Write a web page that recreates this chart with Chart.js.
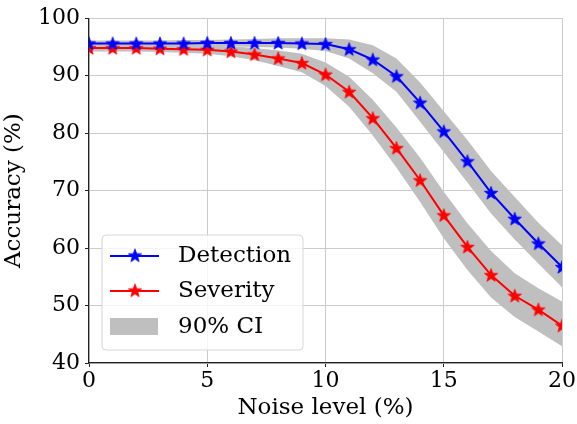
<!DOCTYPE html>
<html>
<head>
<meta charset="utf-8">
<script src="https://cdn.jsdelivr.net/npm/chart.js@4.4.1/dist/chart.umd.min.js"></script>
<style>
html,body{margin:0;padding:0;background:#fff;}
#wrap{width:577px;height:424px;}
</style>
</head>
<body>
<div id="wrap"><canvas id="c" width="577" height="424"></canvas></div>
<script>
const noise = [0,1,2,3,4,5,6,7,8,9,10,11,12,13,14,15,16,17,18,19,20];
const detection = [95.6,95.6,95.6,95.6,95.6,95.7,95.7,95.7,95.7,95.6,95.5,94.6,92.8,89.9,85.3,80.3,75.1,69.6,65.1,60.8,56.7];
const detectionLow = [95.1,95.1,95.1,95.1,95.1,95.1,95.1,95.0,94.9,94.7,94.3,93.0,90.4,87.2,82.0,76.7,71.4,66.0,61.5,57.3,53.2];
const detectionHigh = [96.1,96.1,96.1,96.1,96.2,96.2,96.3,96.4,96.5,96.5,96.5,96.3,95.3,93.0,88.8,83.8,78.8,73.4,68.9,64.4,60.5];
const severity = [94.8,94.8,94.8,94.7,94.6,94.5,94.2,93.7,93.0,92.2,90.2,87.2,82.6,77.4,71.8,65.7,60.2,55.3,51.7,49.3,46.5];
const severityLow = [94.2,94.2,94.2,94.1,94.0,93.8,93.4,92.7,91.7,90.6,88.2,84.6,79.6,74.0,68.0,61.7,56.2,51.4,48.0,45.5,42.9];
const severityHigh = [95.4,95.4,95.4,95.3,95.3,95.2,95.1,94.8,94.4,93.8,92.3,89.8,85.8,81.0,75.7,69.8,64.3,59.5,55.6,53.0,50.7];
const xTicks = [0,5,10,15,20];
const yTicks = [40,50,60,70,80,90,100];
const labels = ['Detection','Severity','90% CI'];

const FONT = "'DejaVu Serif', 'Liberation Serif', serif";
const BAND = '#bfbfbf';

function starPath(ctx, cx, cy, ro, ri){
  ctx.beginPath();
  for(let i=0;i<10;i++){
    const r = i%2===0 ? ro : ri;
    const a = -Math.PI/2 + i*Math.PI/5;
    const x = cx + r*Math.cos(a), y = cy + r*Math.sin(a);
    if(i===0) ctx.moveTo(x,y); else ctx.lineTo(x,y);
  }
  ctx.closePath();
}
function makeStar(color){
  const c = document.createElement('canvas');
  c.width = 16; c.height = 16;
  const g = c.getContext('2d');
  starPath(g, 8, 8.5, 7, 2.9);
  g.fillStyle = color; g.fill();
  g.lineWidth = 0.8; g.strokeStyle = color; g.stroke();
  return c;
}
const blueStar = makeStar('#0000ff');
const redStar = makeStar('#ff0000');

function pts(ys){ return noise.map((x,i)=>({x:x,y:ys[i]})); }

const legendPlugin = {
  id:'mplLegend',
  afterDraw(chart){
    const ctx = chart.ctx;
    ctx.save();
    const bx=102, by=235, bw=201, bh=115, r=4;
    ctx.beginPath();
    ctx.moveTo(bx+r,by); ctx.lineTo(bx+bw-r,by); ctx.quadraticCurveTo(bx+bw,by,bx+bw,by+r);
    ctx.lineTo(bx+bw,by+bh-r); ctx.quadraticCurveTo(bx+bw,by+bh,bx+bw-r,by+bh);
    ctx.lineTo(bx+r,by+bh); ctx.quadraticCurveTo(bx,by+bh,bx,by+bh-r);
    ctx.lineTo(bx,by+r); ctx.quadraticCurveTo(bx,by,bx+r,by);
    ctx.closePath();
    ctx.fillStyle='rgba(255,255,255,0.8)'; ctx.fill();
    ctx.strokeStyle='#d6d6d6'; ctx.lineWidth=1; ctx.stroke();
    const rows=[256,291,327];
    const cols=['#0000ff','#ff0000'];
    const stars=[blueStar,redStar];
    for(let i=0;i<2;i++){
      ctx.beginPath(); ctx.moveTo(110,rows[i]); ctx.lineTo(159,rows[i]);
      ctx.strokeStyle=cols[i]; ctx.lineWidth=2; ctx.stroke();
      ctx.drawImage(stars[i],135-8,rows[i]-8.5);
    }
    ctx.fillStyle=BAND; ctx.fillRect(110,318,48,17);
    ctx.fillStyle='#000'; ctx.font="23px "+FONT; ctx.textBaseline='middle'; ctx.textAlign='left';
    for(let i=0;i<3;i++) ctx.fillText(labels[i],178,rows[i]);
    ctx.restore();
  }
};

new Chart(document.getElementById('c'),{
  type:'line',
  data:{
    datasets:[
      {label:labels[0],data:pts(detection),borderColor:'#0000ff',borderWidth:2,pointStyle:blueStar,pointRadius:7,fill:false,order:0,clip:0,tension:0},
      {label:labels[1],data:pts(severity),borderColor:'#ff0000',borderWidth:2,pointStyle:redStar,pointRadius:7,fill:false,order:0,clip:0,tension:0},
      {label:'dHigh',data:pts(detectionHigh),borderWidth:0,borderColor:'rgba(0,0,0,0)',pointRadius:0,backgroundColor:BAND,fill:'+1',order:2,clip:0},
      {label:'dLow',data:pts(detectionLow),borderWidth:0,borderColor:'rgba(0,0,0,0)',pointRadius:0,fill:false,order:2,clip:0},
      {label:'sHigh',data:pts(severityHigh),borderWidth:0,borderColor:'rgba(0,0,0,0)',pointRadius:0,backgroundColor:BAND,fill:'+1',order:2,clip:0},
      {label:'sLow',data:pts(severityLow),borderWidth:0,borderColor:'rgba(0,0,0,0)',pointRadius:0,fill:false,order:2,clip:0}
    ]
  },
  options:{
    responsive:false,animation:false,
    layout:{padding:{top:16,right:14,left:0,bottom:0}},
    plugins:{legend:{display:false},tooltip:{enabled:false}},
    scales:{
      x:{type:'linear',min:0,max:20,
        afterFit(s){s.height=61;},
        afterBuildTicks(s){s.ticks=xTicks.map(v=>({value:v}));},
        ticks:{color:'#000',font:{family:FONT,size:22},padding:1,maxRotation:0},
        grid:{color:'#cbcbcb',lineWidth:1,tickLength:4,tickColor:'#222'},
        border:{color:'#222',width:1.2},
        title:{display:true,text:'Noise level (%)',color:'#000',font:{family:FONT,size:23},padding:{top:0,bottom:2}}
      },
      y:{type:'linear',min:40,max:100,
        afterFit(s){s.width=89;},
        afterBuildTicks(s){s.ticks=yTicks.map(v=>({value:v}));},
        ticks:{color:'#000',font:{family:FONT,size:22},padding:5},
        grid:{color:'#cbcbcb',lineWidth:1,tickLength:4,tickColor:'#222'},
        border:{color:'#222',width:1.2},
        title:{display:true,text:'Accuracy (%)',color:'#000',font:{family:FONT,size:23},padding:{top:0,bottom:4}}
      }
    }
  },
  plugins:[legendPlugin]
});
</script>
</body>
</html>
